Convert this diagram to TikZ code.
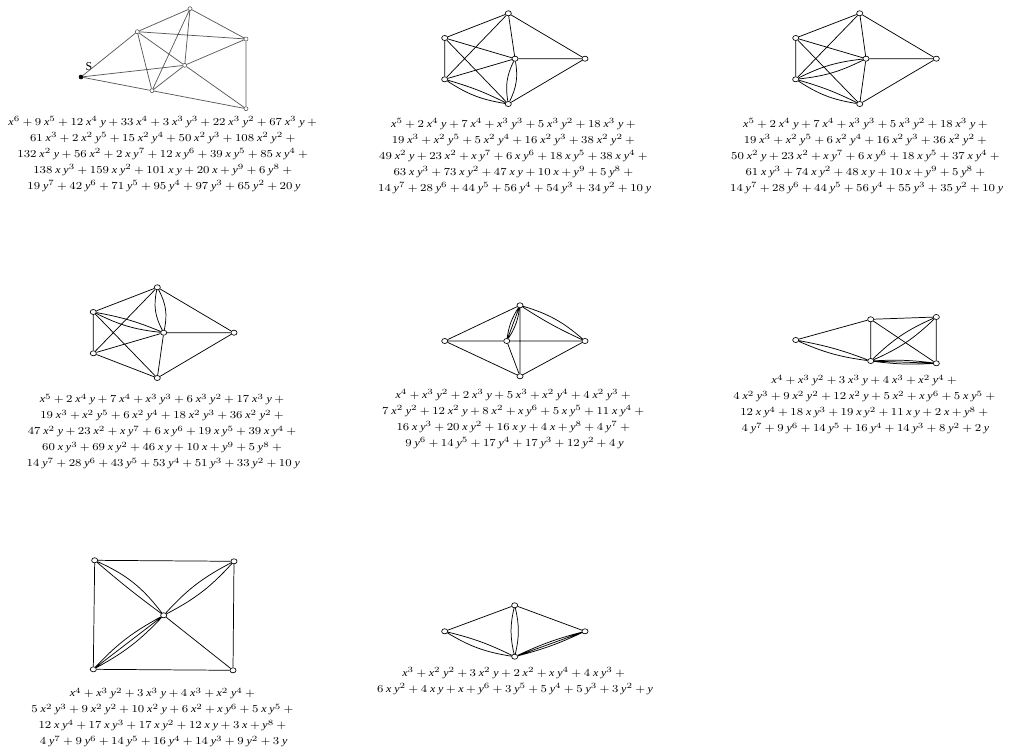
\documentclass[tikz,border=0pt]{standalone}
\usepackage{fontspec}
\setmainfont{Liberation Serif}
\usetikzlibrary{shapes.geometric}
\DeclareSymbolFont{lbit}{TU}{\rmdefault}{m}{it}
\DeclareSymbolFont{lbrm}{TU}{\rmdefault}{m}{n}
\DeclareMathSymbol{x}{\mathalpha}{lbit}{`x}
\DeclareMathSymbol{y}{\mathalpha}{lbit}{`y}
\DeclareMathSymbol{+}{\mathbin}{lbrm}{`+}
\DeclareMathSymbol{0}{\mathalpha}{lbrm}{`0}
\DeclareMathSymbol{1}{\mathalpha}{lbrm}{`1}
\DeclareMathSymbol{2}{\mathalpha}{lbrm}{`2}
\DeclareMathSymbol{3}{\mathalpha}{lbrm}{`3}
\DeclareMathSymbol{4}{\mathalpha}{lbrm}{`4}
\DeclareMathSymbol{5}{\mathalpha}{lbrm}{`5}
\DeclareMathSymbol{6}{\mathalpha}{lbrm}{`6}
\DeclareMathSymbol{7}{\mathalpha}{lbrm}{`7}
\DeclareMathSymbol{8}{\mathalpha}{lbrm}{`8}
\DeclareMathSymbol{9}{\mathalpha}{lbrm}{`9}
\thinmuskip=4mu
\medmuskip=3.5mu
\tikzset{
  vx/.style={ellipse,draw=black,fill=white,line width=0.5pt,inner sep=0pt,minimum width=4.6pt,minimum height=3.8pt},
  vs/.style={circle,draw=black!70,fill=white,line width=0.4pt,inner sep=0pt,minimum size=3pt},
  vb/.style={circle,draw=black,fill=black,inner sep=0pt,minimum size=3pt},
  ed/.style={draw=black,line width=0.55pt},
  eg/.style={draw=black!65,line width=0.55pt},
  poly/.style={align=center,inner sep=0pt,xscale=1.125,transform shape,font=\fontsize{8pt}{12pt}\selectfont},
}
\begin{document}
\begin{tikzpicture}[x=0.75pt,y=-0.75pt]
\useasboundingbox (0,0) rectangle (1010,753);
% ---------- graph 1
\node[vb] (Aa) at (81,77) {};
\node[vs] (Ab) at (137.3,31.7) {};
\node[vs] (Ac) at (190,8.7) {};
\node[vs] (Ad) at (246,39) {};
\node[vs] (Ae) at (184.7,65.3) {};
\node[vs] (Af) at (152,90.7) {};
\node[vs] (Ag) at (246,108.7) {};
\node[inner sep=0pt,font=\fontsize{9pt}{9pt}\selectfont] (As) at (89,67) {S};
\draw[eg] (Aa)--(Ab) (Aa)--(Ae) (Aa)--(Af) (Ab)--(Ac) (Ab)--(Ad) (Ab)--(Ae) (Ab)--(Af)
  (Ac)--(Ad) (Ac)--(Ae) (Ac)--(Af) (Ad)--(Ae) (Ad)--(Ag) (Ae)--(Af) (Ae)--(Ag) (Af)--(Ag);
\node[poly] (At) at (164,153.7) {%
$x^6+9\,x^5+12\,x^4\,y+33\,x^4+3\,x^3\,y^3+22\,x^3\,y^2+67\,x^3\,y+{}$\\
$61\,x^3+2\,x^2\,y^5+15\,x^2\,y^4+50\,x^2\,y^3+108\,x^2\,y^2+{}$\\
$132\,x^2\,y+56\,x^2+2\,x\,y^7+12\,x\,y^6+39\,x\,y^5+85\,x\,y^4+{}$\\
$138\,x\,y^3+159\,x\,y^2+101\,x\,y+20\,x+y^9+6\,y^8+{}$\\
$19\,y^7+42\,y^6+71\,y^5+95\,y^4+97\,y^3+65\,y^2+20\,y$};
% ---------- graph 2
\node[vx] (Ba) at (444.7,38) {};
\node[vx] (Bb) at (508.3,13.3) {};
\node[vx] (Bc) at (515,58.7) {};
\node[vx] (Bd) at (585,58.7) {};
\node[vx] (Be) at (444.7,79.3) {};
\node[vx] (Bf) at (508.3,104) {};
\draw[ed] (Ba)--(Bb) (Ba)--(Be) (Ba)--(Bc) (Ba)--(Bf) (Bb)--(Be) (Bb)--(Bc) (Bb)--(Bd)
  (Bc)--(Be) (Bc)--(Bd) (Bd)--(Bf);
\draw[ed] (Bc) to[bend left=18] (Bf) (Bc) to[bend right=18] (Bf);
\draw[ed] (Be) to[bend left=5] (Bf) (Be) to[bend right=12] (Bf);
\node[poly] (Bt) at (514.7,156.4) {%
$x^5+2\,x^4\,y+7\,x^4+x^3\,y^3+5\,x^3\,y^2+18\,x^3\,y+{}$\\
$19\,x^3+x^2\,y^5+5\,x^2\,y^4+16\,x^2\,y^3+38\,x^2\,y^2+{}$\\
$49\,x^2\,y+23\,x^2+x\,y^7+6\,x\,y^6+18\,x\,y^5+38\,x\,y^4+{}$\\
$63\,x\,y^3+73\,x\,y^2+47\,x\,y+10\,x+y^9+5\,y^8+{}$\\
$14\,y^7+28\,y^6+44\,y^5+56\,y^4+54\,y^3+34\,y^2+10\,y$};
% ---------- graph 3
\node[vx] (Ca) at (795.7,38) {};
\node[vx] (Cb) at (859.7,13.3) {};
\node[vx] (Cc) at (866,58.7) {};
\node[vx] (Cd) at (936.3,58.7) {};
\node[vx] (Ce) at (795.7,79.3) {};
\node[vx] (Cf) at (859.7,104) {};
\draw[ed] (Ca)--(Cb) (Ca)--(Ce) (Ca)--(Cc) (Ca)--(Cf) (Cb)--(Ce) (Cb)--(Cc) (Cb)--(Cd)
  (Cc)--(Cd) (Cc)--(Cf) (Cd)--(Cf);
\draw[ed] (Ce) to[bend left=10] (Cc) (Ce) to[bend right=10] (Cc);
\draw[ed] (Ce) to[bend left=5] (Cf) (Ce) to[bend right=12] (Cf);
\node[poly] (Ct) at (866.7,156.4) {%
$x^5+2\,x^4\,y+7\,x^4+x^3\,y^3+5\,x^3\,y^2+18\,x^3\,y+{}$\\
$19\,x^3+x^2\,y^5+6\,x^2\,y^4+16\,x^2\,y^3+36\,x^2\,y^2+{}$\\
$50\,x^2\,y+23\,x^2+x\,y^7+6\,x\,y^6+18\,x\,y^5+37\,x\,y^4+{}$\\
$61\,x\,y^3+74\,x\,y^2+48\,x\,y+10\,x+y^9+5\,y^8+{}$\\
$14\,y^7+28\,y^6+44\,y^5+56\,y^4+55\,y^3+35\,y^2+10\,y$};
% ---------- graph 4
\node[vx] (Da) at (93.3,312) {};
\node[vx] (Db) at (157.3,287.3) {};
\node[vx] (Dc) at (163.7,332.7) {};
\node[vx] (Dd) at (234,332.7) {};
\node[vx] (De) at (93.3,353.3) {};
\node[vx] (Df) at (157.3,378) {};
\draw[ed] (Da)--(Db) (Da)--(De) (Da)--(Df) (Db)--(De) (Db)--(Dd) (Dc)--(Dd) (Dc)--(De) (Dc)--(Df) (Dd)--(Df) (De)--(Df);
\draw[ed] (Da) to[bend left=6] (Dc) (Da) to[bend right=10] (Dc);
\draw[ed] (Db) to[bend left=20] (Dc) (Db) to[bend right=20] (Dc);
\node[poly] (Dt) at (163.3,431.5) {%
$x^5+2\,x^4\,y+7\,x^4+x^3\,y^3+6\,x^3\,y^2+17\,x^3\,y+{}$\\
$19\,x^3+x^2\,y^5+6\,x^2\,y^4+18\,x^2\,y^3+36\,x^2\,y^2+{}$\\
$47\,x^2\,y+23\,x^2+x\,y^7+6\,x\,y^6+19\,x\,y^5+39\,x\,y^4+{}$\\
$60\,x\,y^3+69\,x\,y^2+46\,x\,y+10\,x+y^9+5\,y^8+{}$\\
$14\,y^7+28\,y^6+43\,y^5+53\,y^4+51\,y^3+33\,y^2+10\,y$};
% ---------- graph 5
\node[vx] (Ea) at (444.7,341) {};
\node[vx] (Eb) at (520,305.3) {};
\node[vx] (Ec) at (506.7,341) {};
\node[vx] (Ed) at (585,341) {};
\node[vx] (Ef) at (520,376.3) {};
\draw[ed] (Ea)--(Eb) (Ea)--(Ec) (Ec)--(Ed) (Ea)--(Ef) (Eb)--(Ef) (Ec)--(Ef) (Ed)--(Ef);
\draw[ed] (Eb) to[bend left=12] (Ec) (Eb)--(Ec) (Eb) to[bend right=12] (Ec);
\draw[ed] (Eb) to[bend left=12] (Ed) (Eb) to[bend right=4] (Ed);
\node[poly] (Et) at (514.5,418.7) {%
$x^4+x^3\,y^2+2\,x^3\,y+5\,x^3+x^2\,y^4+4\,x^2\,y^3+{}$\\
$7\,x^2\,y^2+12\,x^2\,y+8\,x^2+x\,y^6+5\,x\,y^5+11\,x\,y^4+{}$\\
$16\,x\,y^3+20\,x\,y^2+16\,x\,y+4\,x+y^8+4\,y^7+{}$\\
$9\,y^6+14\,y^5+17\,y^4+17\,y^3+12\,y^2+4\,y$};
% ---------- graph 6
\node[vx] (Fa) at (795.7,340) {};
\node[vx] (Fb) at (870.7,319.3) {};
\node[vx] (Fc) at (936.3,317) {};
\node[vx] (Fe) at (870.7,361) {};
\node[vx] (Ff) at (936.3,363.3) {};
\draw[ed] (Fa)--(Fb) (Fb)--(Fc) (Fb)--(Fe) (Fb)--(Ff) (Fc)--(Ff);
\draw[ed] (Fa) to[bend left=5] (Fe) (Fa) to[bend right=8] (Fe);
\draw[ed] (Fe) to[bend left=10] (Fc) (Fe) to[bend right=10] (Fc);
\draw[ed] (Fe) to[bend left=5] (Ff) (Fe)--(Ff) (Fe) to[bend right=5] (Ff);
\node[poly] (Ft) at (865.5,404.5) {%
$x^4+x^3\,y^2+3\,x^3\,y+4\,x^3+x^2\,y^4+{}$\\
$4\,x^2\,y^3+9\,x^2\,y^2+12\,x^2\,y+5\,x^2+x\,y^6+5\,x\,y^5+{}$\\
$12\,x\,y^4+18\,x\,y^3+19\,x\,y^2+11\,x\,y+2\,x+y^8+{}$\\
$4\,y^7+9\,y^6+14\,y^5+16\,y^4+14\,y^3+8\,y^2+2\,y$};
% ---------- graph 7
\node[vx] (Ga) at (94.7,560.3) {};
\node[vx] (Gb) at (234,561.3) {};
\node[vx] (Gc) at (163.7,615.3) {};
\node[vx] (Ge) at (93.3,669.3) {};
\node[vx] (Gf) at (233,670.3) {};
\draw[ed] (Ga)--(Gb) (Ga)--(Ge) (Gb)--(Gf) (Gc)--(Gf) (Ge)--(Gf);
\draw[ed] (Ga) to[bend left=14] (Gc) (Ga) to[bend right=2] (Gc);
\draw[ed] (Gb) to[bend left=10] (Gc) (Gb) to[bend right=10] (Gc);
\draw[ed] (Gc) to[bend left=9] (Ge) (Gc)--(Ge) (Gc) to[bend right=9] (Ge);
\node[poly] (Gt) at (163.7,717.5) {%
$x^4+x^3\,y^2+3\,x^3\,y+4\,x^3+x^2\,y^4+{}$\\
$5\,x^2\,y^3+9\,x^2\,y^2+10\,x^2\,y+6\,x^2+x\,y^6+5\,x\,y^5+{}$\\
$12\,x\,y^4+17\,x\,y^3+17\,x\,y^2+12\,x\,y+3\,x+y^8+{}$\\
$4\,y^7+9\,y^6+14\,y^5+16\,y^4+14\,y^3+9\,y^2+3\,y$};
% ---------- graph 8
\node[vx] (Ha) at (444.7,631.3) {};
\node[vx] (Hb) at (514.7,605.3) {};
\node[vx] (Hd) at (585,631.3) {};
\node[vx] (Hf) at (514.7,656.7) {};
\draw[ed] (Ha)--(Hb) (Hb)--(Hd);
\draw[ed] (Ha) to[bend left=6] (Hf) (Ha) to[bend right=11] (Hf);
\draw[ed] (Hb) to[bend left=13] (Hf) (Hb) to[bend right=13] (Hf);
\draw[ed] (Hf) to[bend left=5] (Hd) (Hf)--(Hd) (Hf) to[bend right=5] (Hd);
\node[poly] (Ht) at (515,681) {%
$x^3+x^2\,y^2+3\,x^2\,y+2\,x^2+x\,y^4+4\,x\,y^3+{}$\\
$6\,x\,y^2+4\,x\,y+x+y^6+3\,y^5+5\,y^4+5\,y^3+3\,y^2+y$};
\end{tikzpicture}
\end{document}
